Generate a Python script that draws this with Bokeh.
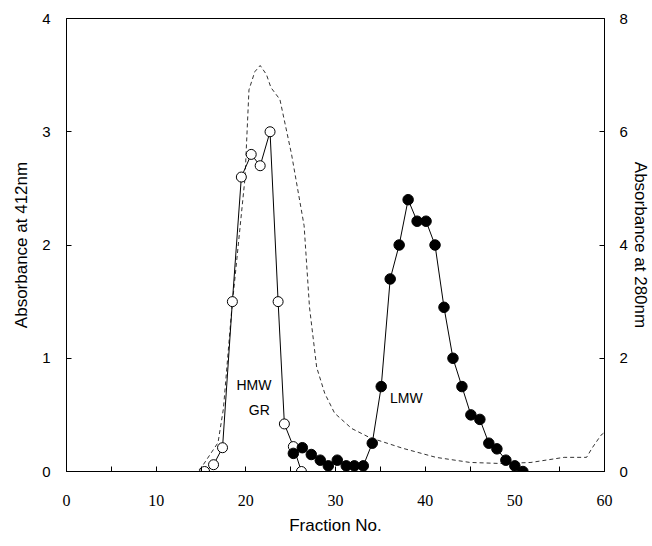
from bokeh.plotting import figure
from bokeh.models import Range1d, LinearAxis, FixedTicker, Label
from bokeh.embed import file_html
from bokeh.resources import INLINE

# HMW GR (open circles), absorbance at 412 nm
hmw_x = [15.4, 16.4, 17.4, 18.5, 19.5, 20.6, 21.6, 22.7, 23.6, 24.3, 25.3, 26.2]
hmw_y = [0.0, 0.06, 0.21, 1.5, 2.6, 2.8, 2.7, 3.0, 1.5, 0.42, 0.22, 0.0]

# LMW (filled circles), absorbance at 412 nm
lmw_x = [25.3, 26.3, 27.3, 28.3, 29.2, 30.2, 31.2, 32.1, 33.1, 34.1, 35.1, 36.1, 37.1, 38.1,
         39.1, 40.1, 41.1, 42.1, 43.1, 44.1, 45.1, 46.1, 47.1, 48.0, 49.0, 50.0, 50.9]
lmw_y = [0.16, 0.21, 0.15, 0.10, 0.05, 0.10, 0.05, 0.05, 0.05, 0.25, 0.75, 1.70, 2.0, 2.40,
         2.21, 2.21, 2.0, 1.45, 1.0, 0.75, 0.5, 0.46, 0.25, 0.2, 0.1, 0.05, 0.0]

# Protein (dashed), absorbance at 280 nm (right axis)
a280_x = [0, 14.5, 15.0, 16.9, 17.5, 18.4, 19.9, 20.35, 21.0, 21.6, 22.3, 22.8, 23.8, 25.1,
          26.5, 27.1, 27.9, 28.8, 29.9, 31.8, 33.8, 37.5, 41.2, 45.0, 48.7, 51.8, 55.5, 58.0,
          58.6, 59.6, 60.0]
a280_y = [0, 0, 0.06, 0.51, 1.11, 2.81, 5.17, 6.74, 7.06, 7.17, 7.01, 6.78, 6.57, 5.6,
          4.34, 2.9, 1.84, 1.38, 1.03, 0.76, 0.60, 0.41, 0.25, 0.16, 0.14, 0.16, 0.25, 0.25,
          0.41, 0.64, 0.69]

x_ticks = [0, 10, 20, 30, 40, 50, 60]
x_minor = [5, 15, 25, 35, 45, 55]
left_ticks = [0, 1, 2, 3, 4]
right_ticks = [0, 2, 4, 6, 8]

p = figure(width=652, height=538, output_backend="svg", toolbar_location=None,
           x_range=Range1d(0, 60), y_range=Range1d(0, 4),
           min_border_left=66, min_border_right=44, min_border_top=18, min_border_bottom=67)
p.background_fill_color = "white"
p.border_fill_color = "white"
p.grid.visible = False
p.outline_line_color = "black"
p.outline_line_width = 1
p.extra_y_ranges = {"r": Range1d(0, 8)}

sans = "Liberation Sans"
serif = "Liberation Serif"

p.xaxis.ticker = FixedTicker(ticks=x_ticks, minor_ticks=x_minor)
p.xaxis.axis_label = "Fraction No."
p.yaxis.ticker = FixedTicker(ticks=left_ticks)
p.yaxis.axis_label = "Absorbance at 412nm"

ax_r = LinearAxis(y_range_name="r", ticker=FixedTicker(ticks=right_ticks),
                  axis_label="Absorbance at 280nm")
p.add_layout(ax_r, "right")

for ax in [p.xaxis[0], p.yaxis[0], ax_r]:
    ax.axis_line_color = "black"
    ax.axis_line_width = 1
    ax.major_tick_in = 5
    ax.major_tick_out = 0
    ax.minor_tick_in = 5
    ax.minor_tick_out = 0
    ax.major_tick_line_color = "black"
    ax.minor_tick_line_color = "black"
    ax.axis_label_text_font = sans
    ax.axis_label_text_font_size = "17px"
    ax.axis_label_text_font_style = "normal"
    ax.axis_label_text_color = "black"
    ax.major_label_text_color = "black"

p.xaxis.major_label_text_font = serif
p.xaxis.major_label_text_font_size = "16px"
p.xaxis.major_label_standoff = 23
p.xaxis.axis_label_standoff = 7
for ax in [p.yaxis[0], ax_r]:
    ax.minor_tick_line_color = None
    ax.major_label_text_font = sans
    ax.major_label_text_font_size = "15px"
p.yaxis.major_label_standoff = 16
p.yaxis.axis_label_standoff = 8
ax_r.major_label_standoff = 15
ax_r.axis_label_standoff = 0

# dashed 280 nm curve
p.line(a280_x, a280_y, y_range_name="r", line_color="#333333", line_width=1,
       line_dash="4 3")

# HMW open circles
p.line(hmw_x, hmw_y, line_color="black", line_width=1)
p.scatter(hmw_x, hmw_y, marker="circle", size=10, fill_color="white",
          line_color="black", line_width=1)

# LMW filled circles
p.line(lmw_x, lmw_y, line_color="black", line_width=1)
p.scatter(lmw_x, lmw_y, marker="circle", size=10.5, fill_color="black",
          line_color="black")

for txt, x, y in [("HMW", 20.9, 0.76), ("GR", 21.5, 0.54), ("LMW", 37.9, 0.65)]:
    p.add_layout(Label(x=x, y=y, text=txt, text_font=sans, text_font_size="14px",
                       text_align="center", text_baseline="middle", text_color="black"))

open("out.html", "w").write(file_html(p, INLINE))
